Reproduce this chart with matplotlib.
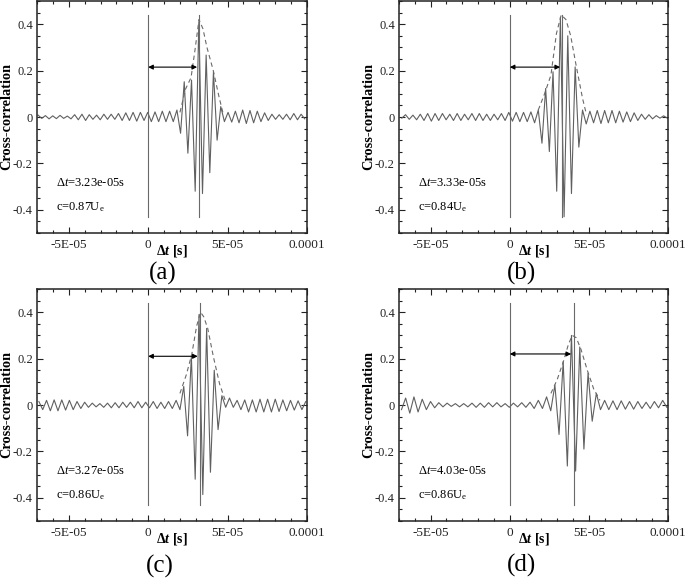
import numpy as np
import matplotlib
matplotlib.use("Agg")
import matplotlib.pyplot as plt
from matplotlib.ticker import FixedLocator, FixedFormatter, MultipleLocator

plt.rcParams['font.family'] = ['Liberation Serif', 'DejaVu Serif']
plt.rcParams['mathtext.fontset'] = 'custom'
plt.rcParams['mathtext.rm'] = 'Liberation Serif'
plt.rcParams['mathtext.it'] = 'Liberation Serif:italic'
plt.rcParams['mathtext.bf'] = 'Liberation Serif:bold'
plt.rcParams['mathtext.bfit'] = 'Liberation Serif:italic:bold'

# ---------------- data ----------------
panel_labels = ["(a)", "(b)", "(c)", "(d)"]
delta_t = [3.23e-5, 3.33e-5, 3.27e-5, 4.03e-5]
delta_t_text = ["3.23e-05", "3.33e-05", "3.27e-05", "4.03e-05"]
c_ratio_text = ["0.87", "0.84", "0.86", "0.86"]
arrow_level = [0.215, 0.215, 0.21, 0.22]

# extrema of the cross-correlation (successive peaks/troughs),
# one every half oscillation period around the main peak
half_period = [2.3e-6, 2.33e-6, 2.4e-6, 2.62e-6]
t_main_peak = [3.19e-5, 3.20e-5, 3.20e-5, 3.90e-5]
k_first = [-44, -43, -42, -41]

corr_a = [0.008, -0.006, 0.006, -0.008, 0.005, -0.007, 0.007, -0.006, 0.004, -0.008,
          0.01, -0.012, 0.012, -0.015, 0.01, -0.01, 0.008, -0.012, 0.012, -0.01,
          0.012, -0.01, 0.015, -0.015, 0.018, -0.015, 0.02, -0.018, 0.02, -0.015,
          0.02, -0.02, 0.022, -0.02, 0.025, -0.02, 0.025, -0.02,
          0.03, -0.07, 0.152, -0.156, 0.159, -0.32, 0.41, -0.33, 0.267, -0.24, 0.195, -0.10, 0.045, -0.02,
          0.02, -0.022, 0.025, -0.025, 0.03, -0.028, 0.028, -0.025, 0.025, -0.02, 0.018,
          -0.015, 0.012, -0.01, 0.01, -0.01, 0.012, -0.012, 0.015, -0.012, 0.012, -0.008]
corr_b = [-0.005, 0.01, -0.01, 0.008, -0.012, 0.012, -0.015, 0.015, -0.018, 0.015,
          -0.015, 0.015, -0.012, 0.012, -0.015, 0.015, -0.015, 0.012, -0.012, 0.015,
          -0.015, 0.015, -0.015, 0.012, -0.015, 0.012, -0.012, 0.015, -0.015, 0.02,
          -0.018, 0.02, -0.02, 0.02, -0.02, 0.022, -0.025, 0.03,
          -0.113, 0.123, -0.149, 0.195, -0.32, 0.43, -0.43, 0.35, -0.33, 0.216, -0.13, 0.03, -0.03,
          0.025, -0.025, 0.028, -0.028, 0.028, -0.025, 0.028, -0.025, 0.025, -0.022, 0.022,
          -0.02, 0.018, -0.015, 0.012, -0.01, 0.01, -0.008, 0.006, -0.005, 0.005, -0.005]
corr_c = [0.015, -0.02, 0.02, -0.025, 0.022, -0.025, 0.022, -0.022, 0.02, -0.02,
          0.015, -0.015, 0.012, -0.01, 0.008, -0.008, 0.006, -0.01, 0.008, -0.012,
          0.01, -0.012, 0.012, -0.01, 0.012, -0.012, 0.015, -0.012, 0.012, -0.012,
          0.015, -0.015, 0.012, -0.015, 0.015, -0.015, 0.02, -0.02,
          0.08, -0.133, 0.21, -0.32, 0.39, -0.386, 0.33, -0.29, 0.15, -0.106, 0.04, -0.01,
          0.03, -0.01, 0.02, -0.02, 0.022, -0.03, 0.022, -0.03, 0.025, -0.03, 0.025,
          -0.03, 0.025, -0.028, 0.022, -0.025, 0.02, -0.022, 0.018, -0.02, 0.015]
corr_d = [-0.02, 0.03, -0.035, 0.035, -0.03, 0.025, -0.02, 0.015, -0.012, 0.01,
          -0.008, 0.008, -0.006, 0.006, -0.008, 0.006, -0.008, 0.008, -0.01, 0.008,
          -0.01, 0.01, -0.008, 0.01, -0.008, 0.006, -0.01, 0.008, -0.008, 0.01,
          -0.01, 0.012, -0.015, 0.02, -0.015, 0.035, -0.025,
          0.086, -0.127, 0.187, -0.263, 0.30, -0.285, 0.25, -0.19, 0.137, -0.07, 0.05, -0.02,
          0.02, -0.02, 0.018, -0.02, 0.018, -0.018, 0.015, -0.018, 0.015, -0.015,
          0.012, -0.015, 0.015, -0.012, 0.02, -0.01]
corr_all = [corr_a, corr_b, corr_c, corr_d]

# dashed envelopes
env_t_a = [2.0e-5, 2.35e-5, 2.7e-5, 2.95e-5, 3.2e-5, 3.45e-5, 3.7e-5, 4.1e-5, 4.45e-5, 4.7e-5]
env_v_a = [0.02, 0.12, 0.17, 0.29, 0.42, 0.38, 0.30, 0.20, 0.09, 0.02]
env_t_b = [1.8e-5, 2.2e-5, 2.6e-5, 2.95e-5, 3.25e-5, 3.55e-5, 3.85e-5, 4.2e-5, 4.6e-5, 4.85e-5]
env_v_b = [0.03, 0.10, 0.18, 0.36, 0.44, 0.42, 0.35, 0.22, 0.08, 0.01]
env_t_c = [2.0e-5, 2.4e-5, 2.75e-5, 3.05e-5, 3.3e-5, 3.5e-5, 3.75e-5, 4.1e-5, 4.5e-5, 4.85e-5]
env_v_c = [0.05, 0.13, 0.22, 0.34, 0.40, 0.38, 0.33, 0.21, 0.09, 0.02]
env_t_d = [2.6e-5, 3.0e-5, 3.4e-5, 3.7e-5, 3.95e-5, 4.2e-5, 4.5e-5, 4.9e-5, 5.3e-5, 5.7e-5]
env_v_d = [0.05, 0.11, 0.19, 0.26, 0.30, 0.29, 0.24, 0.15, 0.07, 0.02]
env_t_all = [env_t_a, env_t_b, env_t_c, env_t_d]
env_v_all = [env_v_a, env_v_b, env_v_c, env_v_d]

x_ticks = [-5e-5, 0, 5e-5, 1e-4]
x_tick_labels = ["-5E-05", "0", "5E-05", "0.0001"]
y_ticks = [-0.4, -0.2, 0, 0.2, 0.4]
y_tick_labels = ["-0.4", "-0.2", "0", "0.2", "0.4"]

# ---------------- figure ----------------
W, H = 685, 581
fig = plt.figure(figsize=(W / 100, H / 100), dpi=100)

# axes boxes in pixels: left, top, right, bottom
boxes = [(37, 1, 307, 233), (399, 1, 668, 233), (37, 289, 307, 521), (399, 289, 668, 521)]
label_pos = [(163, 273), (522, 273), (160, 566), (522, 565)]

curve_col = '#606060'
for i in range(4):
    l, t, r, b = boxes[i]
    ax = fig.add_axes([l / W, 1 - b / H, (r - l) / W, (b - t) / H])
    k = np.arange(k_first[i], k_first[i] + len(corr_all[i]))
    tt = t_main_peak[i] + half_period[i] * k
    ax.plot(tt, corr_all[i], color=curve_col, lw=0.8)
    ax.plot(env_t_all[i], env_v_all[i], color='#6a6a6a', lw=0.8, ls=(0, (4, 3)))
    for xv in (0.0, delta_t[i]):
        ax.plot([xv, xv], [-0.43, 0.44], color='#6a6a6a', lw=0.8)
    ax.annotate('', xy=(0, arrow_level[i]), xytext=(delta_t[i] - 1.5e-6, arrow_level[i]),
                arrowprops=dict(arrowstyle='<|-|>', color='black', lw=0.8,
                                mutation_scale=7, shrinkA=0, shrinkB=0))
    ax.text(-5.8e-5, -0.285, "Δ$\\mathit{t}$=" + delta_t_text[i] + "s", fontsize=9,
            va='center', ha='left')
    ax.text(-5.8e-5, -0.39, "c=" + c_ratio_text[i] + "U$_{\\mathrm{e}}$", fontsize=9,
            va='center', ha='left')

    ax.set_xlim(-7e-5, 1e-4)
    ax.set_ylim(-0.5, 0.5)
    ax.xaxis.set_major_locator(FixedLocator(x_ticks))
    ax.xaxis.set_major_formatter(FixedFormatter(x_tick_labels))
    ax.xaxis.set_minor_locator(MultipleLocator(1e-5))
    ax.yaxis.set_major_locator(FixedLocator(y_ticks))
    ax.yaxis.set_major_formatter(FixedFormatter(y_tick_labels))
    ax.yaxis.set_minor_locator(MultipleLocator(0.05))
    ax.tick_params(which='both', direction='in', top=True, right=True,
                   width=0.8, colors='#222222')
    ax.tick_params(axis='x', labelsize=9.5)
    ax.tick_params(axis='y', labelsize=9)
    ax.tick_params(which='major', length=4)
    ax.tick_params(axis='x', which='major', pad=4)
    ax.tick_params(axis='y', which='major', pad=3)
    ax.tick_params(which='minor', length=2)
    for s in ax.spines.values():
        s.set_linewidth(1.1)
        s.set_color('#222222')
    ax.set_ylabel('Cross-correlation', fontsize=10.3, fontweight='bold', va='baseline')
    ax.yaxis.set_label_coords(-0.099, 0.5)
    ax.set_xlabel("Δ$\\mathbfit{t}$ [s]", fontsize=10, fontweight='bold')
    ax.xaxis.set_label_coords(0.5, -0.045)
    fig.text(label_pos[i][0] / W, 1 - label_pos[i][1] / H, panel_labels[i],
             fontsize=18, ha='center', va='center')

fig.savefig('out.png', dpi=100)
